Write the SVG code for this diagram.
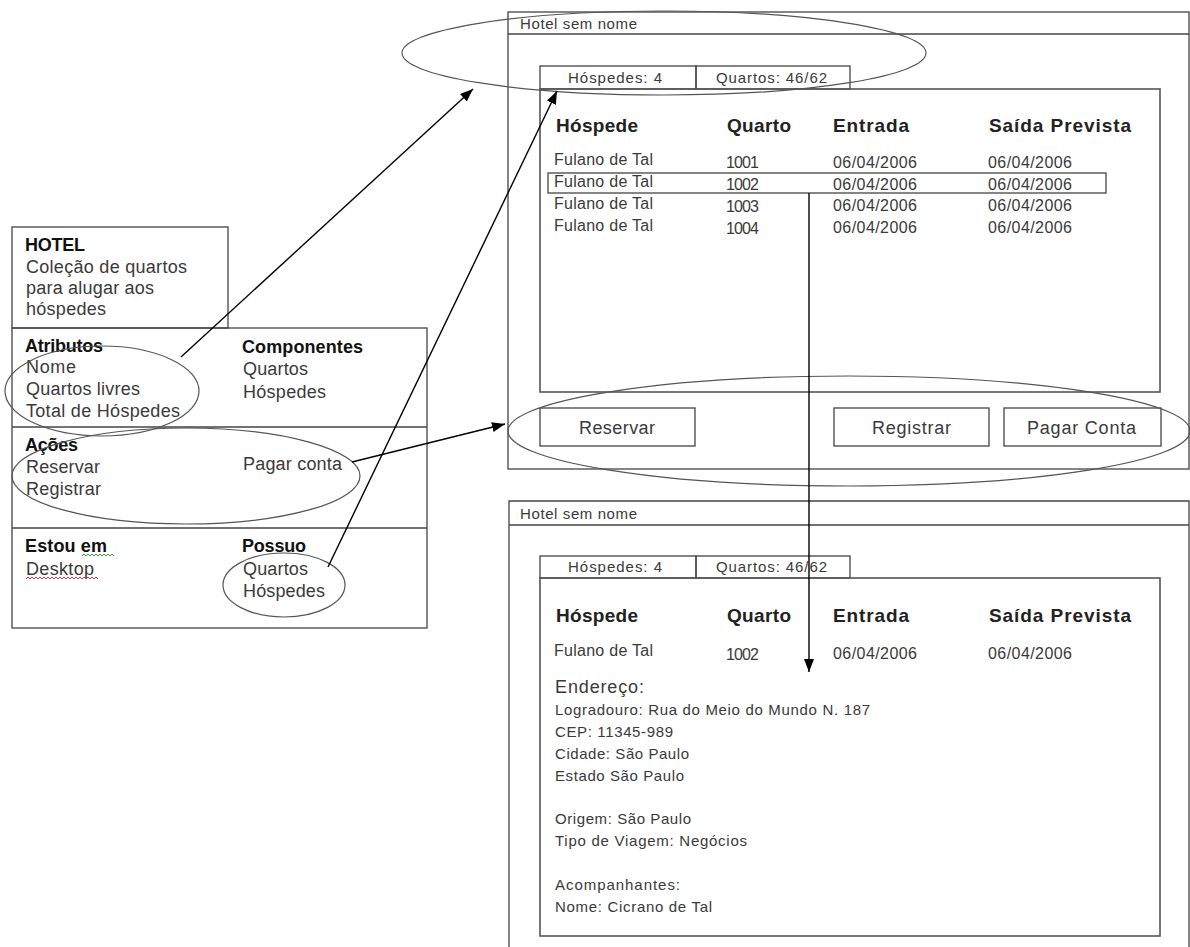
<svg xmlns="http://www.w3.org/2000/svg" width="1190" height="947" viewBox="0 0 1190 947">
<style>
text { font-family: "Liberation Sans", Arial, sans-serif; fill: #3a3a3a; }
.c { font-size: 18px; }
.b { font-weight: bold; fill: #111; }
.t { font-size: 15px; }
.tab { font-size: 15px; }
.h { font-size: 19px; font-weight: bold; fill: #222; }
.r { font-size: 16px; }
.btn { font-size: 18px; }
.frame { fill: none; stroke: #444; stroke-width: 1.3; }
.panel { fill: none; stroke: #555; stroke-width: 1.6; }
.ell { fill: none; stroke: #555; stroke-width: 1.2; }
.conn { fill: none; stroke: #000; stroke-width: 1.4; marker-end: url(#ah); }
</style>
<defs>
<marker id="ah" markerUnits="userSpaceOnUse" markerWidth="14" markerHeight="10" refX="13" refY="5" orient="auto">
<path d="M0,0 L13,5 L0,10 z" fill="#000"/>
</marker>
</defs>
<rect width="1190" height="947" fill="#fff"/>

<g id="hotel-card">
<rect class="frame" x="12" y="227" width="216" height="101"/>
<rect class="frame" x="12" y="328" width="415" height="300"/>
<line class="frame" x1="12" y1="427" x2="427" y2="427"/>
<line class="frame" x1="12" y1="528" x2="427" y2="528"/>
<text class="c b" x="25" y="251" textLength="60">HOTEL</text>
<text class="c" x="26" y="273" textLength="161">Coleção de quartos</text>
<text class="c" x="26" y="294" textLength="128">para alugar aos</text>
<text class="c" x="26" y="315" textLength="80">hóspedes</text>
<text class="c b" x="25" y="352" textLength="78">Atributos</text>
<text class="c" x="26" y="373" textLength="50">Nome</text>
<text class="c" x="26" y="395" textLength="114">Quartos livres</text>
<text class="c" x="26" y="417" textLength="154">Total de Hóspedes</text>
<text class="c b" x="242" y="353" textLength="121">Componentes</text>
<text class="c" x="243" y="375" textLength="65">Quartos</text>
<text class="c" x="243" y="398" textLength="83">Hóspedes</text>
<text class="c b" x="25" y="451" textLength="53">Ações</text>
<text class="c" x="26" y="473" textLength="74">Reservar</text>
<text class="c" x="26" y="495" textLength="75">Registrar</text>
<text class="c" x="243" y="470" textLength="99">Pagar conta</text>
<text class="c b" x="25" y="552" textLength="82">Estou em</text>
<path d="M82,556 l2,-2 l2,2 l2,-2 l2,2 l2,-2 l2,2 l2,-2 l2,2 l2,-2 l2,2 l2,-2 l2,2 l2,-2 l2,2 l2,-2 l2,2" fill="none" stroke="#3a3" stroke-width="1"/>
<text class="c" x="26" y="575" textLength="68">Desktop</text>
<path d="M26,579 l2,-2 l2,2 l2,-2 l2,2 l2,-2 l2,2 l2,-2 l2,2 l2,-2 l2,2 l2,-2 l2,2 l2,-2 l2,2 l2,-2 l2,2 l2,-2 l2,2 l2,-2 l2,2 l2,-2 l2,2 l2,-2 l2,2 l2,-2 l2,2 l2,-2 l2,2 l2,-2 l2,2 l2,-2 l2,2 l2,-2 l2,2 l2,-2 l2,2" fill="none" stroke="#d33" stroke-width="1"/>
<text class="c b" x="242" y="552" textLength="64">Possuo</text>
<text class="c" x="243" y="575" textLength="65">Quartos</text>
<text class="c" x="243" y="597" textLength="82">Hóspedes</text>
</g>

<g id="window-main">
<rect class="frame" x="508" y="12" width="681" height="457"/>
<line class="frame" x1="508" y1="34" x2="1189" y2="34"/>
<text class="t" x="520" y="29" textLength="117">Hotel sem nome</text>
<rect class="frame" x="540" y="66" width="156" height="23"/>
<rect class="frame" x="696" y="66" width="154" height="23"/>
<text class="tab" x="568" y="83" textLength="94">Hóspedes: 4</text>
<text class="tab" x="716" y="83" textLength="111">Quartos: 46/62</text>
<rect class="panel" x="540" y="89" width="620" height="303"/>
<text class="h" x="556" y="132" textLength="82">Hóspede</text>
<text class="h" x="727" y="132" textLength="64">Quarto</text>
<text class="h" x="833" y="132" textLength="76">Entrada</text>
<text class="h" x="989" y="132" textLength="142">Saída Prevista</text>
<text class="r" x="554" y="165" textLength="99">Fulano de Tal</text>
<text class="r" x="554" y="187" textLength="99">Fulano de Tal</text>
<text class="r" x="554" y="209" textLength="99">Fulano de Tal</text>
<text class="r" x="554" y="231" textLength="99">Fulano de Tal</text>
<text class="r" x="726" y="168" textLength="33">1001</text>
<text class="r" x="726" y="190" textLength="33">1002</text>
<text class="r" x="726" y="212" textLength="33">1003</text>
<text class="r" x="726" y="234" textLength="33">1004</text>
<text class="r" x="833" y="168" textLength="84">06/04/2006</text>
<text class="r" x="833" y="190" textLength="84">06/04/2006</text>
<text class="r" x="833" y="211" textLength="84">06/04/2006</text>
<text class="r" x="833" y="233" textLength="84">06/04/2006</text>
<text class="r" x="988" y="168" textLength="84">06/04/2006</text>
<text class="r" x="988" y="190" textLength="84">06/04/2006</text>
<text class="r" x="988" y="211" textLength="84">06/04/2006</text>
<text class="r" x="988" y="233" textLength="84">06/04/2006</text>
<rect class="frame" x="548" y="173" width="558" height="20"/>
<rect class="frame" x="540" y="408" width="155" height="38"/>
<text class="btn" x="579" y="434" textLength="76">Reservar</text>
<rect class="frame" x="834" y="408" width="155" height="38"/>
<text class="btn" x="872" y="434" textLength="79">Registrar</text>
<rect class="frame" x="1004" y="408" width="157" height="38"/>
<text class="btn" x="1027" y="434" textLength="109">Pagar Conta</text>
</g>

<g id="window-detail">
<path class="frame" d="M509,947 V501 H1189 V947"/>
<line class="frame" x1="509" y1="525" x2="1189" y2="525"/>
<text class="t" x="520" y="519" textLength="117">Hotel sem nome</text>
<rect class="frame" x="540" y="556" width="156" height="22"/>
<rect class="frame" x="696" y="556" width="154" height="22"/>
<text class="tab" x="568" y="572" textLength="94">Hóspedes: 4</text>
<text class="tab" x="716" y="572" textLength="111">Quartos: 46/62</text>
<rect class="panel" x="540" y="578" width="620" height="358"/>
<text class="h" x="556" y="622" textLength="82">Hóspede</text>
<text class="h" x="727" y="622" textLength="64">Quarto</text>
<text class="h" x="833" y="622" textLength="76">Entrada</text>
<text class="h" x="989" y="622" textLength="142">Saída Prevista</text>
<text class="r" x="554" y="656" textLength="99">Fulano de Tal</text>
<text class="r" x="726" y="660" textLength="33">1002</text>
<text class="r" x="833" y="659" textLength="84">06/04/2006</text>
<text class="r" x="988" y="659" textLength="84">06/04/2006</text>
<text class="btn" x="555" y="693" textLength="89">Endereço:</text>
<text class="t" x="555" y="715" textLength="315">Logradouro: Rua do Meio do Mundo N. 187</text>
<text class="t" x="555" y="737" textLength="118">CEP: 11345-989</text>
<text class="t" x="555" y="759" textLength="134">Cidade: São Paulo</text>
<text class="t" x="555" y="781" textLength="129">Estado São Paulo</text>
<text class="t" x="555" y="824" textLength="136">Origem: São Paulo</text>
<text class="t" x="555" y="846" textLength="192">Tipo de Viagem: Negócios</text>
<text class="t" x="555" y="890" textLength="125">Acompanhantes:</text>
<text class="t" x="555" y="912" textLength="157">Nome: Cicrano de Tal</text>
</g>

<g id="highlights">
<ellipse class="ell" cx="664" cy="53" rx="262" ry="42"/>
<ellipse class="ell" cx="849" cy="431" rx="341" ry="55"/>
<ellipse class="ell" cx="102" cy="391" rx="97" ry="45"/>
<ellipse class="ell" cx="186" cy="476" rx="174" ry="48"/>
<ellipse class="ell" cx="284" cy="585" rx="61" ry="32"/>
</g>

<g id="connectors">
<line class="conn" x1="181" y1="357" x2="473" y2="89"/>
<line class="conn" x1="328" y1="567" x2="557" y2="91"/>
<line class="conn" x1="352" y1="462" x2="505" y2="424"/>
<line class="conn" x1="809" y1="193" x2="809" y2="672"/>
</g>
</svg>
